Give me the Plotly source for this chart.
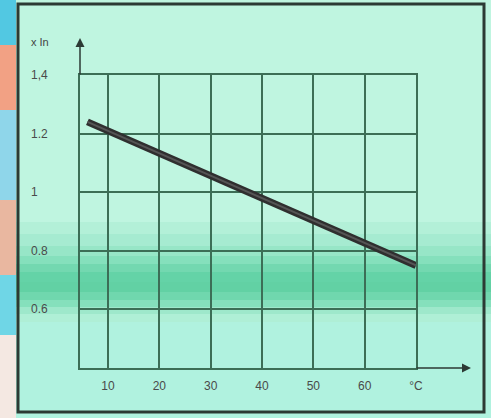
import plotly.graph_objects as go

# Data
temps = [6, 70]
factor = [1.24, 0.75]
x_ticks = [10, 20, 30, 40, 50, 60, 70]
x_tick_labels = ["10", "20", "30", "40", "50", "60", "°C"]
y_ticks = [0.6, 0.8, 1.0, 1.2, 1.4]
y_tick_labels = ["0.6", "0.8", "1", "1.2", "1,4"]
y_title = "x In"

W, H = 491, 418
L, R, T, B = 80, 416, 75, 368  # plot area in pixels


def px(x):
    return (x - L) / (R - L)


def py(y):
    return (B - y) / (B - T)


fig = go.Figure()
fig.add_trace(go.Scatter(
    x=temps, y=factor, mode="lines",
    line=dict(color="#2f2f2f", width=7), hoverinfo="skip", showlegend=False))
fig.add_trace(go.Scatter(
    x=temps, y=factor, mode="lines",
    line=dict(color="#555555", width=2), hoverinfo="skip", showlegend=False))

grid = "#3c6e56"
font = dict(family="Liberation Sans, Arial, sans-serif", size=12, color="#4a4a4a")

shapes = []
# soft shading band of the photo
band_edges = [(222, 0.08), (234, 0.16), (246, 0.26), (256, 0.38), (264, 0.5),
              (272, 0.6), (282, 0.62), (292, 0.52), (300, 0.38), (307, 0.22), (314, 0.1)]
for i, (y0, a) in enumerate(band_edges):
    y1 = band_edges[i + 1][0] if i + 1 < len(band_edges) else y0 + 8
    shapes.append(dict(type="rect", xref="paper", yref="paper", x0=px(16), x1=px(W),
                       y0=py(y1), y1=py(y0), fillcolor=f"rgba(40,188,128,{a})",
                       line=dict(width=0), layer="below"))
# slight cyan tint at bottom
shapes.append(dict(type="rect", xref="paper", yref="paper", x0=px(16), x1=px(W),
                   y0=py(H), y1=py(322), fillcolor="rgba(120,230,220,0.2)",
                   line=dict(width=0), layer="below"))
# left strip from neighbouring page
strips = [
    (0, 45, "#52c8e2"), (45, 110, "#f2a184"), (110, 200, "#8fd6ea"),
    (200, 275, "#e9b7a0"), (275, 335, "#6fd6e6"), (335, 418, "#f4e8e2"),
]
for y0, y1, c in strips:
    shapes.append(dict(type="rect", xref="paper", yref="paper", x0=px(0), x1=px(16),
                       y0=py(y1), y1=py(y0), fillcolor=c, line=dict(width=0), layer="below"))
# outer frame
shapes.append(dict(type="rect", xref="paper", yref="paper", x0=px(18), x1=px(484),
                   y0=py(412), y1=py(4), line=dict(color="#2c3a34", width=3),
                   fillcolor="rgba(0,0,0,0)", layer="above"))

annotations = []
for v, t in zip(y_ticks, y_tick_labels):
    annotations.append(dict(x=px(29), xref="paper", y=v, yref="y", text=t,
                            showarrow=False, xanchor="left", yanchor="middle", font=font))
annotations.append(dict(x=px(29), xref="paper", y=py(42), yref="paper", text=y_title,
                        showarrow=False, xanchor="left", yanchor="middle",
                        font=dict(family=font["family"], size=11, color="#444444")))
# axis arrows
annotations.append(dict(x=0, xref="paper", y=py(38), yref="paper", ax=0, ay=38,
                        text="", showarrow=True, arrowhead=2, arrowsize=1.2,
                        arrowwidth=1.5, arrowcolor="#2c3a34"))
annotations.append(dict(x=px(471), xref="paper", y=0, yref="paper", ax=-56, ay=0,
                        text="", showarrow=True, arrowhead=2, arrowsize=1.2,
                        arrowwidth=1.5, arrowcolor="#2c3a34"))

fig.update_layout(
    width=W, height=H,
    margin=dict(l=L, r=W - R, t=T, b=H - B),
    paper_bgcolor="#bff5e0",
    plot_bgcolor="rgba(0,0,0,0)",
    shapes=shapes,
    annotations=annotations,
    font=font,
    xaxis=dict(range=[4.55, 70], tickvals=x_ticks, ticktext=x_tick_labels,
               showgrid=True, gridcolor=grid, gridwidth=1.5, zeroline=False,
               showline=True, linecolor=grid, linewidth=1.5, mirror=True,
               ticks="", ticklabelstandoff=6, tickfont=font),
    yaxis=dict(range=[0.4, 1.4], tickvals=y_ticks, showticklabels=False,
               showgrid=True, gridcolor=grid, gridwidth=1.5, zeroline=False,
               showline=True, linecolor=grid, linewidth=1.5, mirror=True, ticks=""),
)

fig.write_html("out.html", config={"displayModeBar": False},
               post_script="document.body.style.margin='0';document.body.style.overflow='hidden';")
